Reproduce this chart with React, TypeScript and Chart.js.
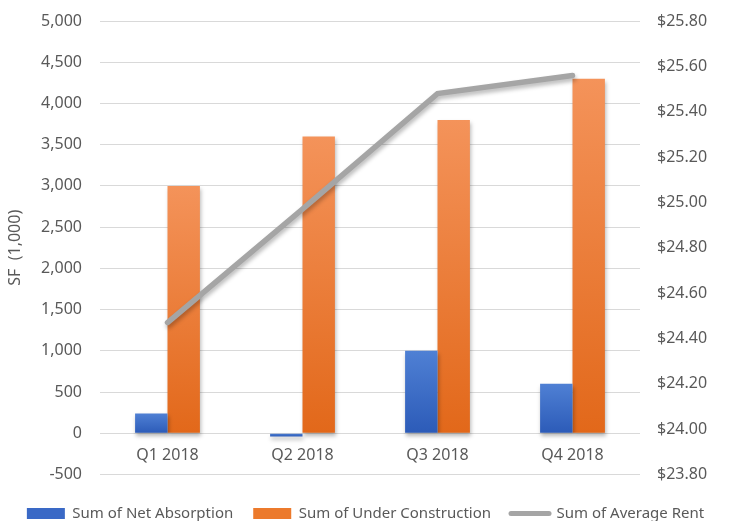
import React, { useEffect, useRef } from "react";
import { Chart, registerables } from "chart.js";

Chart.register(...registerables);

const categories = ["Q1 2018", "Q2 2018", "Q3 2018", "Q4 2018"];
const netAbsorption = [240, -40, 1000, 600];
const underConstruction = [3000, 3600, 3800, 4300];
const averageRent = [24.47, 24.97, 25.48, 25.56];

const leftTicks = { min: -500, max: 5000, step: 500 };
const rightTicks = { min: 23.8, max: 25.8, step: 0.2 };

const FONT = "'Noto Sans', sans-serif";
const TEXT = "#595959";

function barGradient(top: string, bottom: string, solid: string) {
  return (ctx: any) => {
    if (ctx.type !== "data") return solid;
    const chart = ctx.chart;
    const scale = chart.scales && chart.scales.y;
    if (!scale) return solid;
    const yTop = scale.getPixelForValue(ctx.raw);
    const yBase = scale.getPixelForValue(0);
    if (!isFinite(yTop) || !isFinite(yBase) || yTop === yBase) return solid;
    const g = chart.ctx.createLinearGradient(0, Math.min(yTop, yBase), 0, Math.max(yTop, yBase));
    g.addColorStop(0, top);
    g.addColorStop(1, bottom);
    return g;
  };
}

const shadowPlugin = {
  id: "barShadow",
  beforeDatasetDraw(chart: any, args: any) {
    const ds = chart.data.datasets[args.index];
    if (ds.type === "line") return;
    const c = chart.ctx;
    c.shadowColor = "rgba(0,0,0,0.28)";
    c.shadowBlur = 4;
    c.shadowOffsetX = 1;
    c.shadowOffsetY = 3;
  },
};

export default function App() {
  const ref = useRef<HTMLCanvasElement | null>(null);

  useEffect(() => {
    if (!ref.current) return;
    const chart = new Chart(ref.current, {
      type: "bar",
      data: {
        labels: categories,
        datasets: [
          {
            type: "bar",
            label: "Sum of Net Absorption",
            data: netAbsorption,
            backgroundColor: barGradient("#4f80d4", "#2c5bb8", "#4472c4"),
            borderWidth: 0,
            yAxisID: "y",
            order: 1,
            barPercentage: 1,
            categoryPercentage: 0.48,
          } as any,
          {
            type: "bar",
            label: "Sum of Under Construction",
            data: underConstruction,
            backgroundColor: barGradient("#f4935a", "#e2681a", "#ed7d31"),
            borderWidth: 0,
            yAxisID: "y",
            order: 1,
            barPercentage: 1,
            categoryPercentage: 0.48,
          } as any,
          {
            type: "line",
            label: "Sum of Average Rent",
            data: averageRent,
            borderColor: "#a5a5a5",
            backgroundColor: "#a5a5a5",
            borderWidth: 5.5,
            borderCapStyle: "round",
            pointRadius: 0,
            pointHoverRadius: 0,
            tension: 0,
            yAxisID: "y1",
            order: 0,
          } as any,
        ],
      },
      options: {
        responsive: false,
        animation: false,
        devicePixelRatio: 1,
        layout: { padding: { top: 21, left: 0, right: 0, bottom: 0 } },
        plugins: {
          tooltip: { enabled: false },
          legend: {
            position: "bottom",
            title: { display: true, text: "", padding: 0, font: { size: 10, lineHeight: 1.15 } },
            labels: {
              usePointStyle: true,
              pointStyleWidth: 38,
              boxHeight: 11,
              padding: 20,
              color: TEXT,
              font: { family: FONT, size: 15 },
              generateLabels: (ch: any) =>
                ch.data.datasets.map((ds: any, i: number) => {
                  const isLine = ds.type === "line";
                  return {
                    text: ds.label,
                    datasetIndex: i,
                    fillStyle: isLine ? "#a5a5a5" : i === 0 ? "#3a69c6" : "#ec7a2c",
                    strokeStyle: isLine ? "#a5a5a5" : "rgba(0,0,0,0)",
                    lineWidth: isLine ? 5 : 0,
                    lineCap: isLine ? "round" : "butt",
                    pointStyle: isLine ? "line" : "rect",
                    fontColor: TEXT,
                    hidden: false,
                  };
                }),
            },
          },
        },
        scales: {
          x: {
            type: "category",
            position: { y: 0 } as any,
            grid: { display: false, drawTicks: false },
            border: { display: false },
            ticks: { color: TEXT, font: { family: FONT, size: 16 }, padding: 13, maxRotation: 0 },
          },
          y: {
            type: "linear",
            position: "left",
            min: leftTicks.min,
            max: leftTicks.max,
            ticks: {
              stepSize: leftTicks.step,
              color: TEXT,
              font: { family: FONT, size: 16 },
              padding: 18,
              callback: (v: any) => Number(v).toLocaleString("en-US"),
            },
            grid: { color: "#d9d9d9", lineWidth: 1, drawTicks: false },
            border: { display: false },
            title: {
              display: true,
              text: "SF  (1,000)",
              color: TEXT,
              font: { family: FONT, size: 16 },
              padding: { top: 6, bottom: 0 },
            },
            afterFit: (s: any) => {
              s.width = 100;
              s.paddingTop = 0;
              s.paddingBottom = 0;
            },
          },
          y1: {
            type: "linear",
            position: "right",
            min: rightTicks.min,
            max: rightTicks.max,
            ticks: {
              stepSize: rightTicks.step,
              color: TEXT,
              font: { family: FONT, size: 16 },
              padding: 17,
              callback: (v: any) => "$" + Number(v).toFixed(2),
            },
            grid: { display: false, drawOnChartArea: false, drawTicks: false },
            border: { display: false },
            afterFit: (s: any) => {
              s.width = 91;
              s.paddingTop = 0;
              s.paddingBottom = 0;
            },
          },
        },
      } as any,
      plugins: [shadowPlugin],
    });
    return () => chart.destroy();
  }, []);

  return (
    <div
      style={{
        position: "fixed",
        left: 0,
        top: 0,
        width: 731,
        height: 521,
        overflow: "hidden",
        background: "#ffffff",
      }}
    >
      <canvas ref={ref} width={731} height={531} style={{ display: "block" }} />
    </div>
  );
}
